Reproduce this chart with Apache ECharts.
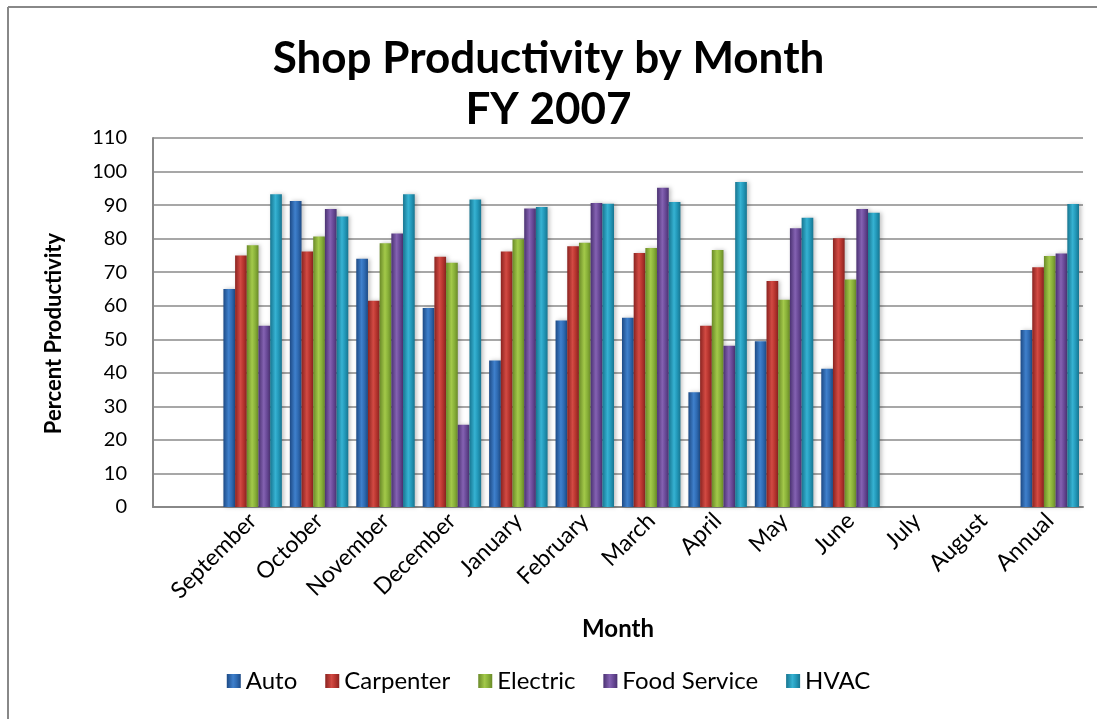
<!DOCTYPE html>
<html>
<head>
<meta charset="utf-8">
<script src="https://cdn.jsdelivr.net/npm/echarts@6/dist/echarts.min.js"></script>
<style>
  html, body { margin: 0; padding: 0; background: #fff; }
  #main { width: 1097px; height: 719px; }
</style>
</head>
<body>
<div id="main"></div>
<script>
// first category is blank in the source sheet
const months = ['', 'September', 'October', 'November', 'December', 'January', 'February',
  'March', 'April', 'May', 'June', 'July', 'August', 'Annual'];

const auto        = [null, 65.0, 91.2, 74.0, 59.3, 43.7, 55.6, 56.4, 34.2, 49.4, 41.2, null, null, 52.8];
const carpenter   = [null, 75.0, 76.2, 61.5, 74.6, 76.2, 77.7, 75.7, 54.0, 67.4, 80.1, null, null, 71.5];
const electric    = [null, 78.0, 80.6, 78.6, 72.8, 79.8, 78.8, 77.2, 76.6, 61.8, 67.8, null, null, 74.8];
const foodService = [null, 54.0, 88.8, 81.5, 24.5, 89.0, 90.6, 95.2, 48.1, 83.1, 88.8, null, null, 75.6];
const hvac        = [null, 93.2, 86.6, 93.2, 91.7, 89.4, 90.4, 90.9, 96.9, 86.2, 87.7, null, null, 90.3];

const font = 'Lato';

// edge / centre colours for the rounded-bar look
const shades = {
  'Auto':         ['#1d4a85', '#3f80cc', '#2f6bb3'],
  'Carpenter':    ['#8a2320', '#d24a43', '#b8352f'],
  'Electric':     ['#6a8a28', '#a3c94a', '#8ab23a'],
  'Food Service': ['#4b3272', '#8462b2', '#6a4a98'],
  'HVAC':         ['#177590', '#36b2d2', '#2399ba']
};

function grad(name) {
  const c = shades[name];
  return new echarts.graphic.LinearGradient(0, 0, 1, 0, [
    { offset: 0, color: c[0] },
    { offset: 0.45, color: c[1] },
    { offset: 0.7, color: c[2] },
    { offset: 1, color: c[0] }
  ]);
}

function bar(name, data) {
  return {
    name: name,
    type: 'bar',
    data: data,
    barGap: '0%',
    barCategoryGap: '12%',
    itemStyle: {
      color: grad(name),
      shadowBlur: 4,
      shadowOffsetX: 2,
      shadowColor: 'rgba(0,0,0,0.25)'
    }
  };
}

const chart = echarts.init(document.getElementById('main'));

chart.setOption({
  animation: false,
  color: ['#2f6bb3', '#b8352f', '#8ab23a', '#6a4a98', '#2399ba'],
  title: {
    text: 'Shop Productivity by Month\nFY 2007',
    left: 'center',
    top: 28,
    textStyle: { fontFamily: font, fontWeight: 'bold', fontSize: 44, lineHeight: 51, color: '#000' }
  },
  legend: {
    bottom: 21,
    left: 'center',
    itemWidth: 14,
    itemHeight: 14,
    itemGap: 28,
    icon: 'rect',
    textStyle: { fontFamily: font, fontSize: 24, color: '#000' },
    data: ['Auto', 'Carpenter', 'Electric', 'Food Service', 'HVAC']
  },
  grid: { left: 153, right: 14, top: 138, bottom: 212 },
  xAxis: {
    type: 'category',
    data: months,
    name: 'Month',
    nameLocation: 'middle',
    nameGap: 110,
    nameTextStyle: { fontFamily: font, fontWeight: 'bold', fontSize: 24, color: '#000' },
    axisTick: { show: false },
    axisLine: { lineStyle: { color: '#888', width: 2 } },
    axisLabel: { rotate: 45, margin: 10, interval: 0, fontFamily: font, fontSize: 23, color: '#000' }
  },
  yAxis: {
    type: 'value',
    min: 0,
    max: 110,
    interval: 10,
    name: 'Percent Productivity',
    nameLocation: 'middle',
    nameGap: 88,
    nameTextStyle: { fontFamily: font, fontWeight: 'bold', fontSize: 22, color: '#000', padding: [0, 22, 0, 0] },
    axisLine: { show: true, lineStyle: { color: '#888', width: 2 } },
    axisTick: { show: false },
    axisLabel: { margin: 26, fontFamily: font, fontSize: 20, color: '#000' },
    splitLine: { lineStyle: { color: '#8a8a8a', width: 1.5 } }
  },
  graphic: [
    { type: 'line', shape: { x1: 8, y1: 7, x2: 1097, y2: 7 }, style: { stroke: '#888', lineWidth: 2 } },
    { type: 'line', shape: { x1: 8, y1: 7, x2: 8, y2: 719 }, style: { stroke: '#888', lineWidth: 2 } }
  ],
  series: [
    bar('Auto', auto),
    bar('Carpenter', carpenter),
    bar('Electric', electric),
    bar('Food Service', foodService),
    bar('HVAC', hvac)
  ]
});
</script>
</body>
</html>
